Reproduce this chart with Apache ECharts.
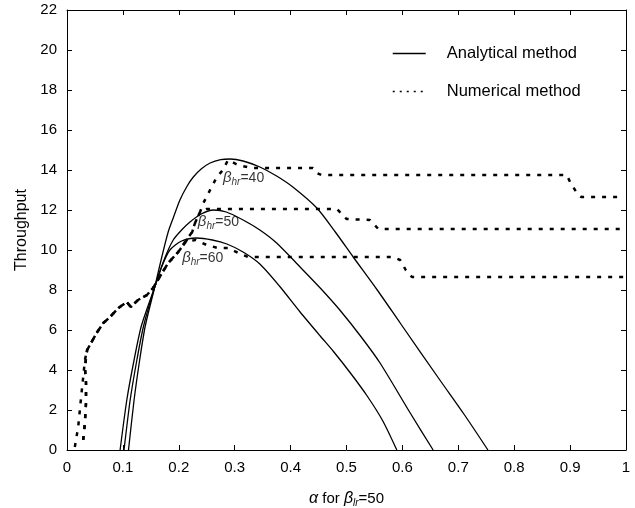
<!DOCTYPE html>
<html><head><meta charset="utf-8">
<script src="https://cdn.jsdelivr.net/npm/echarts@6/dist/echarts.min.js"></script>
<style>html,body{margin:0;padding:0;background:#fff}#c{width:635px;height:508px}</style>
</head><body><div id="c"></div>
<script>
// Analytical method curves [alpha, throughput]
const analytic40 = [[0.11,0],[0.12,2.5],[0.13,4.5],[0.14,6.2],[0.157,8.15],[0.17,9.7],[0.181,10.9],[0.19,11.6],[0.202,12.5],[0.215,13.2],[0.226,13.65],[0.24,14.05],[0.256,14.35],[0.275,14.52],[0.292,14.55],[0.315,14.45],[0.345,14.15],[0.375,13.7],[0.404,13.15],[0.447,12.1],[0.48,10.9],[0.512,9.65],[0.555,8.0],[0.596,6.35],[0.667,3.5],[0.71,1.8],[0.753,0]];
const analytic50 = [[0.102,0],[0.113,2.5],[0.125,4.5],[0.137,6.2],[0.157,8.15],[0.175,9.6],[0.19,10.5],[0.205,11.0],[0.22,11.4],[0.24,11.8],[0.262,12.0],[0.285,11.9],[0.315,11.5],[0.345,11.0],[0.375,10.35],[0.417,9.15],[0.453,8.1],[0.488,7.0],[0.525,5.7],[0.56,4.35],[0.614,1.85],[0.655,0]];
const analytic60 = [[0.095,0],[0.107,2.5],[0.12,4.5],[0.133,6.2],[0.157,8.15],[0.17,9.2],[0.184,10.0],[0.205,10.45],[0.232,10.6],[0.26,10.5],[0.286,10.3],[0.315,9.9],[0.345,9.3],[0.38,8.2],[0.417,6.9],[0.453,5.7],[0.476,4.95],[0.507,3.85],[0.537,2.7],[0.565,1.45],[0.59,0]];
// Numerical method curves
const numeric40 = [[0.014,0.15],[0.02,1.15],[0.023,2],[0.026,2.85],[0.029,3.65],[0.032,4.5],[0.036,5.0],[0.044,5.4],[0.053,5.85],[0.065,6.35],[0.077,6.65],[0.092,7.1],[0.107,7.4],[0.114,7.15],[0.127,7.5],[0.143,7.75],[0.154,8.1],[0.17,8.85],[0.181,9.35],[0.199,9.9],[0.211,10.35],[0.22,10.75],[0.224,10.9],[0.229,11.35],[0.238,11.9],[0.244,12.35],[0.256,13.0],[0.268,13.65],[0.279,14.0],[0.288,14.5],[0.306,14.25],[0.33,14.1],[0.44,14.1],[0.447,13.85],[0.455,13.75],[0.894,13.75],[0.9,13.4],[0.912,12.85],[0.92,12.65],[0.995,12.65]];
const numeric50 = [[0.029,0.5],[0.032,1.35],[0.034,2.35],[0.034,3.35],[0.032,4.15],[0.036,5.0],[0.044,5.4],[0.053,5.85],[0.065,6.35],[0.077,6.65],[0.092,7.1],[0.107,7.4],[0.114,7.15],[0.127,7.5],[0.143,7.75],[0.154,8.1],[0.17,8.85],[0.181,9.35],[0.199,9.9],[0.211,10.35],[0.22,10.75],[0.224,10.9],[0.229,11.35],[0.238,11.9],[0.25,12.05],[0.483,12.05],[0.5,11.55],[0.542,11.5],[0.557,11.05],[0.995,11.05]];
const numeric60 = [[0.029,0.5],[0.032,1.35],[0.034,2.35],[0.034,3.35],[0.032,4.15],[0.036,5.0],[0.044,5.4],[0.053,5.85],[0.065,6.35],[0.077,6.65],[0.092,7.1],[0.107,7.4],[0.114,7.15],[0.127,7.5],[0.143,7.75],[0.154,8.1],[0.17,8.85],[0.181,9.35],[0.199,9.9],[0.211,10.4],[0.23,10.5],[0.25,10.25],[0.27,10.1],[0.288,10.1],[0.31,9.8],[0.324,9.65],[0.583,9.65],[0.596,9.5],[0.606,9.0],[0.617,8.65],[0.995,8.65]];
// Curve labels: [alpha, throughput, beta value]
const curveLabels = [[0.279,13.6,'40'],[0.234,11.4,'50'],[0.206,9.6,'60']];
const legendNames = ['Analytical method','Numerical method'];
const xLabel = ['α', ' for ', 'β', 'lr', '=50'];
const yLabel = 'Throughput';

const FONT = 'Liberation Sans, Arial, sans-serif';
const ink = '#000';
const solid = {color: ink, width: 1.3, type: 'solid'};
const dotted = {color: ink, width: 2.5, type: [4, 7]};

function lineSeries(name, data, style, smooth) {
  return {type: 'line', name: name, data: data, showSymbol: false, symbol: 'none',
    smooth: smooth ? 0.25 : false,
    lineStyle: style, itemStyle: {color: ink}, silent: true, animation: false, z: 3};
}

const labelSeries = {
  type: 'scatter', data: curveLabels.map(d => [d[0], d[1], d[2]]), symbolSize: 0,
  silent: true, animation: false, z: 5,
  label: {show: true, position: 'right', distance: 0, color: ink,
    formatter: p => '{b|β}{s|hr}{n|=' + p.data[2] + '}',
    rich: {
      b: {fontFamily: FONT, fontSize: 15, fontStyle: 'italic', color: ink},
      s: {fontFamily: FONT, fontSize: 10, fontStyle: 'italic', color: ink, padding: [9, 0, 0, 0]},
      n: {fontFamily: FONT, fontSize: 14, color: ink}
    }}
};

const chart = echarts.init(document.getElementById('c'), null, {renderer: 'canvas'});
const axisLine = {show: true, onZero: false, lineStyle: {color: ink, width: 1}};
const tick = {show: true, inside: true, length: 5, lineStyle: {color: ink}};
chart.setOption({
  backgroundColor: '#fff',
  animation: false,
  grid: {left: 67, right: 9, top: 10, bottom: 58, containLabel: false, outerBoundsMode: 'none'},
  legend: {
    orient: 'vertical', left: 387, top: 40, itemWidth: 33, itemHeight: 14, itemGap: 21,
    selectedMode: false,
    data: [
      {name: legendNames[0], itemStyle: {opacity: 0}, lineStyle: {color: ink, width: 1.3, type: 'solid'}},
      {name: legendNames[1], itemStyle: {opacity: 0}, lineStyle: {color: ink, width: 1.5, type: [2, 5]}}
    ],
    textStyle: {fontFamily: FONT, fontSize: 16.5, color: ink, padding: [0, 0, 0, 16]}
  },
  xAxis: [{
    type: 'value', min: 0, max: 1, interval: 0.1, position: 'bottom',
    axisLine: axisLine, axisTick: tick, splitLine: {show: false},
    axisLabel: {fontFamily: FONT, fontSize: 15, color: ink, margin: 10,
      formatter: v => (v === 0 ? '0' : (Math.abs(v - 1) < 1e-9 ? '1' : v.toFixed(1)))},
    name: '{a|' + xLabel[0] + '}{t|' + xLabel[1] + '}{a|' + xLabel[2] + '}{s|' + xLabel[3] + '}{t|' + xLabel[4] + '}',
    nameLocation: 'middle', nameGap: 39,
    nameTextStyle: {rich: {
      a: {fontFamily: FONT, fontSize: 16, fontStyle: 'italic', color: ink},
      t: {fontFamily: FONT, fontSize: 15, color: ink},
      s: {fontFamily: FONT, fontSize: 10, fontStyle: 'italic', color: ink, padding: [9, 0, 0, 0]}
    }}
  }, {
    type: 'value', min: 0, max: 1, interval: 0.1, position: 'top',
    axisLine: axisLine, axisTick: tick, axisLabel: {show: false}, splitLine: {show: false}
  }],
  yAxis: [{
    type: 'value', min: 0, max: 22, interval: 2, position: 'left',
    axisLine: axisLine, axisTick: tick, splitLine: {show: false},
    axisLabel: {fontFamily: FONT, fontSize: 15, color: ink, margin: 10},
    name: yLabel, nameLocation: 'middle', nameGap: 36,
    nameTextStyle: {fontFamily: FONT, fontSize: 16, color: ink}
  }, {
    type: 'value', min: 0, max: 22, interval: 2, position: 'right',
    axisLine: axisLine, axisTick: tick, axisLabel: {show: false}, splitLine: {show: false}
  }],
  series: [
    lineSeries(legendNames[0], analytic40, solid, true),
    lineSeries(legendNames[0], analytic50, solid, true),
    lineSeries(legendNames[0], analytic60, solid, true),
    lineSeries(legendNames[1], numeric40, dotted, false),
    lineSeries(legendNames[1], numeric50, dotted, false),
    lineSeries(legendNames[1], numeric60, dotted, false),
    labelSeries
  ]
});
</script></body></html>
